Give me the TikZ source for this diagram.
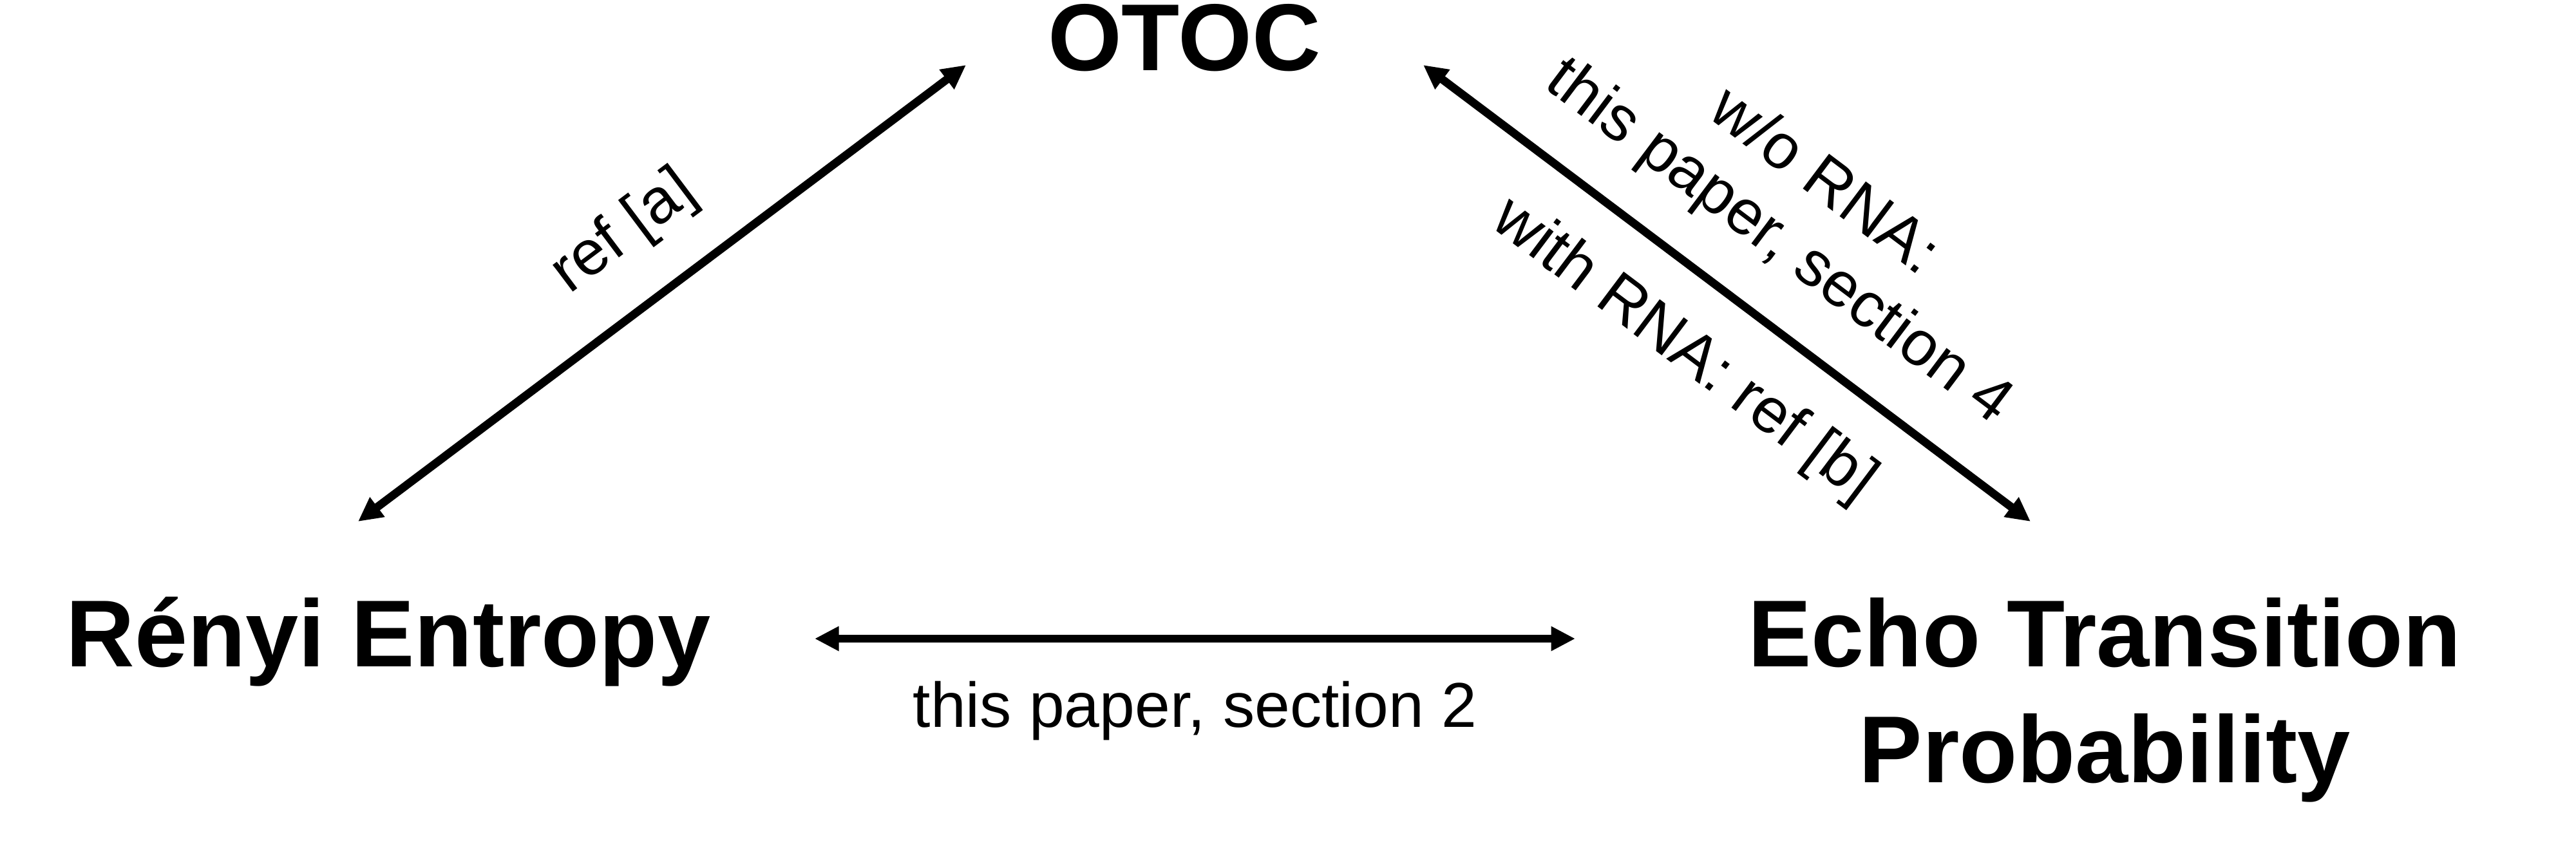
\documentclass[tikz,border=0pt]{standalone}
\usepackage{fontspec}
\setmainfont{Liberation Sans}
\usetikzlibrary{arrows.meta,calc}
\begin{document}
\begin{tikzpicture}[
  big/.style={font=\bfseries\fontsize{42}{51.2}\selectfont, inner sep=0pt, align=center},
  lab/.style={font=\fontsize{28}{33}\selectfont, inner sep=0pt, align=center},
  biarrow/.style={line width=0.127cm, {Triangle[length=0.375cm,width=0.36cm]}-{Triangle[length=0.375cm,width=0.36cm]}}
]
\useasboundingbox (0,0) rectangle (40,-13.42);
\node[big, anchor=base] (otoc) at (18.39,-1.09) {OTOC};
\node[big, anchor=base] (renyi) at (6.03,-10.35) {Rényi Entropy};
\node[big, anchor=base] (echo) at (32.68,-12.15) {Echo Transition\\Probability};
\coordinate (rA) at (5.56,-8.10);
\coordinate (oA) at (15.00,-1.01);
\coordinate (oB) at (22.10,-1.01);
\coordinate (eB) at (31.53,-8.10);
\coordinate (rC) at (12.65,-9.92);
\coordinate (eC) at (24.46,-9.92);
\draw[biarrow] (rA) -- node[lab, sloped, pos=0.508, above=0.58cm] {ref [a]} (oA);
\draw[biarrow] (oB) -- node[lab, sloped, pos=0.514, above=0.58cm] {w/o RNA:\\this paper, section 4}
                      node[lab, sloped, pos=0.5, below=0.60cm] {with RNA: ref [b]} (eB);
\draw[biarrow] (rC) -- node[lab, anchor=base, yshift=-1.37cm] {this paper, section 2} (eC);
\end{tikzpicture}
\end{document}
